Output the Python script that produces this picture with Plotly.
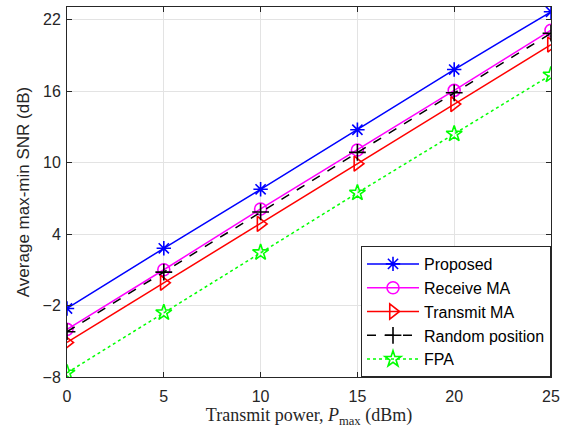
import plotly.graph_objects as go

# Transmit power (dBm)
power_dbm = [0, 5, 10, 15, 20, 25]

# Average max-min SNR (dB) for each scheme
snr_proposed = [-2.25, 2.8, 7.75, 12.75, 17.8, 22.65]
snr_receive_ma = [-4.0, 1.0, 6.1, 11.05, 16.05, 21.1]
snr_transmit_ma = [-5.1, -0.1, 4.85, 9.9, 14.9, 19.9]
snr_random = [-4.2, 0.8, 5.85, 10.85, 15.85, 20.85]
snr_fpa = [-7.65, -2.6, 2.45, 7.45, 12.4, 17.35]

y_ticks = [-8, -2, 4, 10, 16, 22]
x_ticks = [0, 5, 10, 15, 20, 25]

series = [
    ("Proposed", snr_proposed, "#0000ff", "solid", "asterisk-open", 12),
    ("Receive MA", snr_receive_ma, "#ff00ff", "solid", "circle-open", 12),
    ("Transmit MA", snr_transmit_ma, "#ff0000", "solid", "triangle-right-open", 13),
    ("Random position", snr_random, "#000000", "dash", "cross-thin-open", 12),
    ("FPA", snr_fpa, "#00ff00", "dot", "star-open", 12),
]

fig = go.Figure()
for name, vals, color, dash, symbol, size in series:
    fig.add_trace(go.Scatter(
        x=power_dbm, y=vals, name=name, mode="lines+markers",
        line=dict(color=color, width=1.5, dash=dash),
        marker=dict(symbol=symbol, size=size, color=color,
                    line=dict(color=color, width=1.6)),
    ))

axis_common = dict(
    showline=True, mirror="ticks", linecolor="#262626", linewidth=1,
    ticks="inside", ticklen=5, tickcolor="#262626",
    showgrid=True, gridcolor="#e3e3e3", gridwidth=1, zeroline=False,
    tickfont=dict(family="Liberation Sans, Arial", size=16, color="#262626"),
)

fig.update_layout(
    width=566, height=434,
    margin=dict(l=67, r=13, t=6, b=57),
    paper_bgcolor="white", plot_bgcolor="white",
    xaxis=dict(range=[0, 25], tickvals=x_ticks, ticklabelstandoff=5,
               title=dict(text="Transmit power, <i>P</i><sub>max</sub> (dBm)",
                          font=dict(family="Liberation Serif, DejaVu Serif", size=18, color="#262626"),
                          standoff=2),
               **axis_common),
    yaxis=dict(range=[-8, 23.05], tickvals=y_ticks, ticklabelstandoff=2,
               title=dict(text="Average max-min SNR (dB)",
                          font=dict(family="Liberation Sans, Arial", size=17, color="#262626"),
                          standoff=8),
               **axis_common),
    legend=dict(x=1, y=0, xanchor="right", yanchor="bottom",
                bgcolor="white", bordercolor="#262626", borderwidth=1,
                font=dict(family="Liberation Sans, Arial", size=16, color="#000000"),
                itemwidth=52, tracegroupgap=0),
    showlegend=True,
)

fig.write_html("out.html")
